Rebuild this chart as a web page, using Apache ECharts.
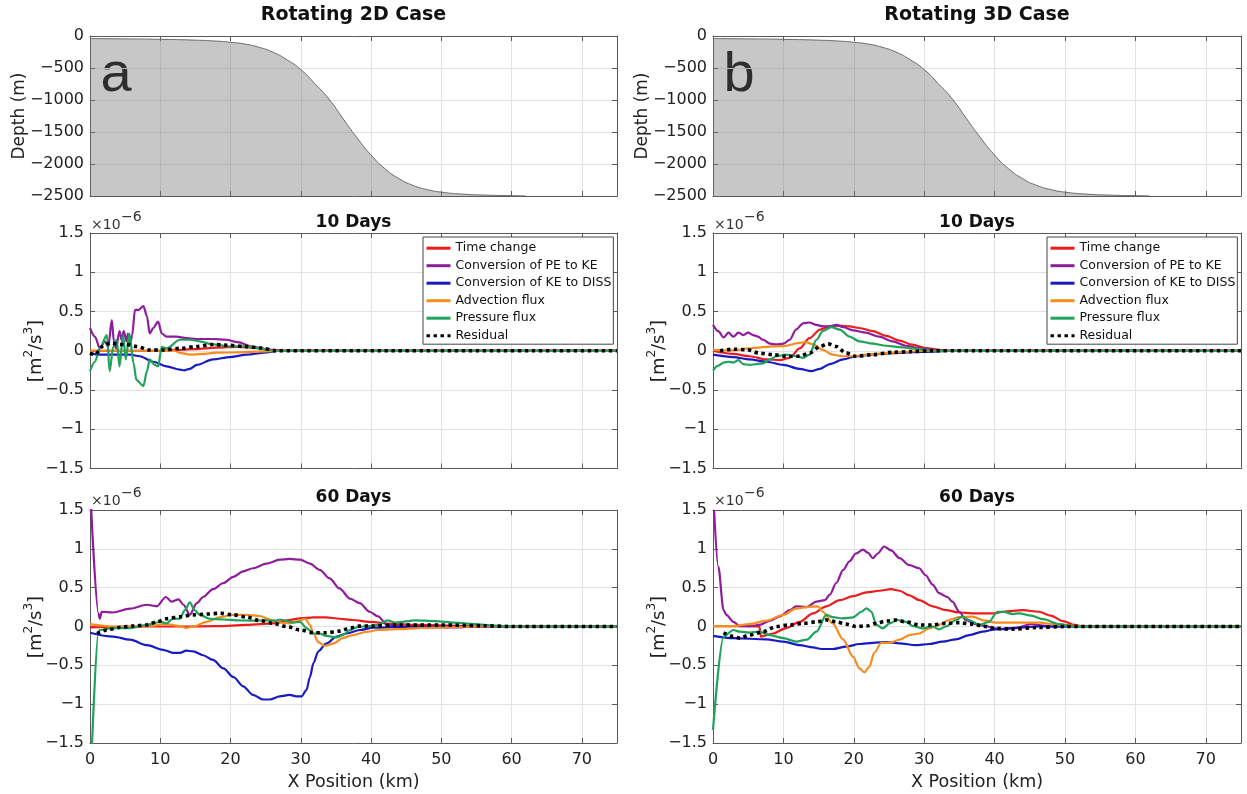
<!DOCTYPE html>
<html>
<head>
<meta charset="utf-8">
<script src="https://cdn.jsdelivr.net/npm/echarts@6/dist/echarts.min.js"></script>
<style>
html,body{margin:0;padding:0;background:#fff;}
#chart{width:1247px;height:794px;}
</style>
</head>
<body>
<div id="chart"></div>
<script>
// ---------------- DATA ----------------
const seriesNames = ['Time change','Conversion of PE to KE','Conversion of KE to DISS','Advection flux','Pressure flux','Residual'];
const panelTitles = ['Rotating 2D Case','Rotating 3D Case'];
const rowTitles = ['10 Days','60 Days'];
const panelLetters = ['a','b'];
const xTicks = [0,10,20,30,40,50,60,70];
const depthTicks = [0,-500,-1000,-1500,-2000,-2500];
const fluxTicks = [1.5,1,0.5,0,-0.5,-1,-1.5];

// bathymetry (same profile in both cases)
const depthX = [0,5,10,15,18,20,22,24,26,28,30,32,34,36,38,40,42,44,46,48,50,53,56,60,62];
const depthY = [-40,-45,-52,-65,-80,-98,-125,-175,-252,-370,-525,-745,-985,-1290,-1590,-1860,-2075,-2230,-2335,-2400,-2440,-2470,-2485,-2495,-2498];

// 2D, 10 days  ([x km, value x1e-6])
const l10_time = [[0,0],[10,0],[12,0.01],[15,0.02],[18,0.04],[21,0.05],[24,0.035],[26,0.01],[27.5,0],[75,0]];
const l10_pe = [[0,0.29],[0.7,0.18],[1.4,0.03],[2.1,0.12],[2.6,0.05],[3.1,0.39],[3.4,0.12],[3.7,0.03],[4.2,0.25],[4.5,0.14],[4.8,0.25],[5.2,0.12],[5.4,0.22],[5.7,0.08],[6.0,0.2],[6.4,0.52],[6.9,0.52],[7.6,0.57],[8.1,0.44],[8.5,0.22],[9.0,0.29],[9.7,0.37],[10.2,0.22],[10.9,0.18],[12.3,0.18],[13.7,0.16],[15.2,0.15],[17.5,0.15],[19.4,0.14],[21,0.11],[23.2,0.05],[25.6,0.01],[27,0],[75,0]];
const l10_diss = [[0,-0.03],[1.4,-0.05],[5.7,-0.05],[7.1,-0.07],[9,-0.14],[10.9,-0.2],[12.8,-0.24],[13.4,-0.25],[14.2,-0.23],[15.2,-0.18],[17.5,-0.11],[19.9,-0.08],[22.3,-0.05],[25.2,-0.02],[27,0],[75,0]];
const l10_adv = [[0,0],[12,0],[13,-0.03],[14.2,-0.05],[16,-0.04],[18,-0.025],[21,-0.02],[24,-0.01],[27,0],[75,0]];
const l10_pres = [[0,-0.26],[0.7,-0.14],[1.4,0.03],[2.4,0.2],[2.8,-0.26],[3.3,0.05],[3.8,0.14],[4.2,-0.2],[4.7,0.2],[5.1,-0.11],[5.6,0.22],[6.2,-0.16],[6.6,-0.37],[7.6,-0.45],[8.1,-0.26],[8.5,-0.11],[9.2,-0.18],[9.7,-0.2],[10.2,0.05],[10.9,0.03],[12.8,0.14],[14.2,0.14],[15.6,0.12],[17.5,0.08],[19.9,0.055],[22.3,0.055],[24.6,0.02],[26.5,0],[75,0]];
const l10_res = [[0,-0.03],[0.7,-0.05],[1.8,0.055],[2.9,0.1],[4.3,0.08],[5.2,0.08],[6.6,0.055],[8.5,0.01],[10.5,0.01],[12.8,0.03],[15.3,0.055],[17.5,0.08],[19.5,0.07],[22,0.055],[24.3,0.035],[26.5,0],[75,0]];

// 3D, 10 days
const r10_time = [[0,0],[2.9,-0.04],[5.2,-0.07],[7.6,-0.11],[9.5,-0.12],[10.9,-0.09],[12.3,0.03],[13.7,0.16],[15.2,0.27],[16.6,0.31],[18,0.32],[19.4,0.31],[20.8,0.29],[22.7,0.25],[24.6,0.19],[26.5,0.13],[28.3,0.077],[30.2,0.034],[32.1,0.013],[34,0],[75,0]];
const r10_pe = [[0,0.33],[0.75,0.25],[1.5,0.17],[2.2,0.23],[2.9,0.18],[3.6,0.23],[4.3,0.2],[5,0.23],[5.7,0.2],[6.4,0.18],[7.1,0.14],[8.1,0.09],[9,0.08],[10,0.09],[10.9,0.14],[11.8,0.27],[12.8,0.35],[13.7,0.36],[14.7,0.33],[15.6,0.31],[16.6,0.31],[17.5,0.33],[18.5,0.3],[19.9,0.26],[21.7,0.23],[23.6,0.18],[25.5,0.12],[27.4,0.064],[29.3,0.03],[31.2,0.01],[33,0],[75,0]];
const r10_diss = [[0,-0.05],[2.9,-0.08],[5.2,-0.11],[7.6,-0.14],[10,-0.18],[12.3,-0.23],[13.96,-0.26],[15.2,-0.23],[16.6,-0.17],[18.5,-0.11],[20.3,-0.07],[22.7,-0.047],[25.5,-0.03],[28.3,-0.017],[31.2,-0.01],[34,0],[75,0]];
const r10_adv = [[0,0.01],[2.9,0.004],[5.2,0.03],[7.6,0.05],[10,0.06],[12.3,0.1],[13.2,0.11],[14.2,0.08],[15.6,0.01],[17,-0.05],[18.4,-0.07],[19.9,-0.07],[21.7,-0.05],[24.6,-0.03],[27.4,-0.013],[30.2,0],[75,0]];
const r10_pres = [[0,-0.25],[0.75,-0.19],[1.5,-0.15],[2.2,-0.14],[2.9,-0.15],[3.6,-0.12],[4.3,-0.17],[5.2,-0.18],[6.2,-0.17],[7.1,-0.16],[8.1,-0.11],[9,-0.07],[10.4,-0.05],[11.8,-0.07],[12.8,-0.09],[13.7,-0.05],[14.7,0.14],[15.6,0.25],[16.8,0.3],[18,0.27],[19.4,0.18],[20.8,0.12],[22.7,0.09],[24.6,0.064],[26.5,0.047],[28.3,0.03],[30.2,0.013],[32.1,0],[75,0]];
const r10_res = [[1,0],[2.9,0.02],[4.8,0.013],[6.6,-0.03],[8.5,-0.05],[10.4,-0.07],[12.3,-0.07],[13.7,-0.03],[15.2,0.055],[16.3,0.09],[17.5,0.055],[18.9,-0.03],[20.3,-0.07],[22.7,-0.05],[25.5,-0.02],[28.3,-0.01],[31.2,0],[75,0]];

// 2D, 60 days
const l60_time = [[0,-0.01],[8,0],[12.8,0],[18,0.005],[22.3,0.02],[26,0.04],[28,0.08],[29.9,0.105],[31.8,0.118],[33.6,0.118],[35.5,0.1],[37.4,0.084],[39.8,0.06],[43.5,0.03],[46.8,0.02],[55,0],[75,0]];
const l60_pe = [[0.15,1.55],[1.2,0.17],[1.4,0.1],[1.66,0.19],[3.3,0.18],[5.7,0.23],[8.1,0.28],[9.5,0.26],[10.8,0.38],[11.6,0.32],[12.6,0.35],[13.3,0.28],[14.2,0.15],[15.2,0.3],[16.1,0.38],[17.5,0.48],[19,0.56],[20.4,0.64],[21.8,0.71],[23.2,0.75],[25.1,0.81],[27,0.86],[28.4,0.87],[29.9,0.86],[31.3,0.81],[32.7,0.73],[34.1,0.62],[35.5,0.49],[37,0.36],[38.4,0.3],[39.8,0.19],[41,0.13],[42.3,0.02],[46.3,-0.013],[52,-0.013],[55,0],[75,0]];
const l60_diss = [[0,-0.08],[3.3,-0.13],[5.7,-0.17],[8.1,-0.24],[10.4,-0.3],[11.8,-0.34],[12.8,-0.34],[13.7,-0.31],[14.7,-0.32],[16.1,-0.37],[17.5,-0.43],[19,-0.54],[20.4,-0.65],[21.8,-0.77],[23.2,-0.88],[24.6,-0.94],[25.6,-0.94],[27,-0.9],[28.4,-0.88],[29.4,-0.9],[30.1,-0.9],[30.8,-0.82],[31.3,-0.65],[31.8,-0.47],[32.5,-0.32],[33.6,-0.22],[35.1,-0.13],[36.5,-0.09],[38.4,-0.045],[40.3,-0.015],[44,-0.005],[48,0],[75,0]];
const l60_adv = [[0,0.03],[3.3,0],[8.1,0.006],[10.9,0.03],[12.8,0.006],[13.7,-0.02],[14.7,0],[16.6,0.06],[18.5,0.12],[20.4,0.15],[22.3,0.15],[24.2,0.135],[25.6,0.09],[27,0.05],[28.4,0.04],[29.9,0.08],[30.6,0.1],[31.3,0.02],[31.8,-0.09],[32.5,-0.2],[33.4,-0.25],[34.6,-0.22],[36,-0.15],[37.4,-0.11],[39.3,-0.07],[41,-0.045],[43.5,-0.035],[49,-0.013],[55,0],[75,0]];
const l60_pres = [[0.25,-1.6],[1.2,-0.07],[1.4,-0.045],[3.3,-0.02],[5.7,-0.02],[8.1,0.02],[10,0.06],[10.9,0.04],[11.8,0.1],[12.8,0.1],[13.5,0.21],[14.2,0.31],[14.9,0.21],[15.6,0.15],[17,0.1],[19,0.09],[20.9,0.08],[23.2,0.075],[25.1,0.08],[26.5,0.075],[27,0.09],[28.9,0.05],[29.9,0.06],[30.8,-0.02],[31.8,-0.09],[32.7,-0.09],[33.6,-0.12],[35.1,-0.14],[36,-0.11],[37,-0.045],[37.9,-0.01],[38.9,0],[39.8,0.006],[41,0.02],[42.3,0.08],[43.5,0.05],[46.3,0.08],[49.1,0.07],[51.9,0.05],[54.7,0.03],[57.5,0.01],[60,0],[75,0]];
const l60_res = [[1,-0.09],[2.4,-0.045],[4.3,-0.01],[6.2,0.006],[8.1,0.02],[9.5,0.06],[10.9,0.1],[12.8,0.125],[14.7,0.15],[16.6,0.16],[18.5,0.17],[20.4,0.15],[22.3,0.12],[24.2,0.075],[26.1,0.04],[28,0],[29.9,-0.045],[31.8,-0.08],[33.6,-0.08],[35.5,-0.06],[37,-0.02],[38.4,0.006],[39.8,0.006],[44,0.02],[50,0.02],[56,0.01],[60,0],[75,0]];

// 3D, 60 days
const r60_time = [[0,0.006],[2.9,0.006],[6.6,0],[6.8,-0.13],[8.5,-0.09],[10.4,-0.02],[12.3,0.06],[14.2,0.17],[16.1,0.26],[18,0.34],[19.9,0.39],[21.8,0.44],[23.6,0.46],[25.3,0.48],[26.5,0.46],[27.9,0.4],[29.3,0.34],[31.2,0.26],[33.1,0.21],[35,0.18],[36.8,0.17],[38.7,0.17],[40.1,0.17],[41.2,0.19],[44,0.21],[46.3,0.19],[48,0.14],[49.7,0.07],[51.4,0.02],[52.6,0],[75,0]];
const r60_pe = [[0.15,1.5],[0.75,0.77],[1.5,0.21],[1.9,0.15],[2.9,0.06],[3.8,0.006],[5.2,0.006],[6.6,0.02],[8.1,0.075],[9.5,0.13],[10.9,0.21],[11.8,0.26],[13.3,0.25],[14.7,0.32],[15.9,0.34],[16.6,0.41],[17.5,0.56],[18.5,0.73],[19.4,0.84],[20.3,0.94],[21.3,0.99],[22,0.95],[22.7,0.88],[23.4,0.94],[24.3,1.03],[25.3,0.98],[26.5,0.88],[27.9,0.79],[29.3,0.75],[30.2,0.66],[31.2,0.54],[32.1,0.43],[33.3,0.38],[34,0.32],[35,0.19],[35.9,0.084],[37.3,0.03],[38.7,0.006],[40.1,-0.024],[41.2,-0.035],[43,-0.02],[45.2,0.03],[46.9,0.01],[48,0],[75,0]];
const r60_diss = [[0,-0.12],[2.9,-0.15],[7.6,-0.165],[10,-0.195],[12.3,-0.24],[14.2,-0.27],[15.4,-0.29],[17,-0.29],[18.9,-0.26],[20.8,-0.225],[22.7,-0.21],[24.6,-0.2],[26.5,-0.217],[28.8,-0.24],[30.7,-0.225],[32.6,-0.195],[34.5,-0.165],[36.4,-0.11],[38.3,-0.067],[40.1,-0.036],[43.5,-0.013],[46.3,0],[75,0]];
const r60_adv = [[0,0.006],[2.9,0.006],[5.2,0.03],[7.6,0.075],[10,0.15],[11.8,0.23],[13.3,0.25],[14.9,0.26],[15.6,0.19],[17,0.04],[18.5,-0.17],[19.9,-0.39],[20.8,-0.54],[21.5,-0.59],[22.2,-0.52],[22.9,-0.34],[23.9,-0.21],[25.1,-0.21],[26.5,-0.17],[27.9,-0.11],[29.3,-0.09],[30.7,-0.024],[32.1,0.02],[33.5,0.084],[35,0.12],[36.8,0.127],[38.7,0.075],[40.1,0.05],[43.5,0.05],[46.3,0.05],[49.2,0.02],[53,0],[75,0]];
const r60_pres = [[0,-1.33],[1.5,-0.13],[2.9,-0.045],[3.8,-0.067],[5.2,-0.08],[6.6,-0.067],[8.1,-0.11],[10,-0.15],[11.8,-0.195],[13.3,-0.17],[14.7,-0.067],[16.1,0.15],[17,0.12],[18.4,0.105],[19.9,0.118],[21.1,0.19],[21.8,0.234],[22.5,0.19],[23.2,0.02],[24.1,-0.024],[25.1,0.04],[26.2,0.084],[27.4,0.06],[28.4,0.006],[29.8,-0.024],[31.2,0],[32.1,-0.036],[33.1,0],[34.5,0.084],[35.4,0.127],[36.4,0.084],[37.8,0.02],[39.2,0.06],[40.4,0.19],[41.2,0.19],[42.6,0.16],[43.5,0.17],[45.2,0.14],[46.9,0.094],[49.2,0.03],[51.4,0],[75,0]];
const r60_res = [[1.5,-0.08],[2.9,-0.13],[3.8,-0.15],[5.2,-0.11],[7.1,-0.067],[9,0],[10.9,0.02],[12.8,0.04],[14.7,0.06],[16.1,0.084],[17.5,0.06],[18.9,0.03],[20.3,0],[21.8,0.006],[23.2,0.04],[24.6,0.07],[26,0.084],[27.4,0.06],[29.3,0.02],[31.2,0.02],[33.1,0.04],[35,0.05],[36.8,0.03],[38.7,0],[40.1,-0.024],[42.4,-0.034],[46.3,-0.013],[50,0],[75,0]];

// ---------------- STYLE / LAYOUT ----------------
const FONT = 'DejaVu Sans';
const colors = ['#ec1c1c','#8e1c9c','#1a1ac4','#f78c1e','#1fa35c','#000000'];
const colLeft = [90, 713];
const colRight = [630, 6];
const rowTop = [36, 233, 510];
const rowH = [160, 235.5, 233];
const AX = '#5a5a5a';
const GRIDC = '#e2e2e2';

const grids = [], xAxes = [], yAxes = [], series = [], graphics = [];
const minusFmt = v => (v < 0 ? '\u2212' + Math.abs(v) : String(v));

for (let r = 0; r < 3; r++) {
  for (let c = 0; c < 2; c++) {
    grids.push({left: colLeft[c], right: colRight[c], top: rowTop[r], height: rowH[r], containLabel: false});
  }
}
const yRange = r => r === 0 ? {min: -2500, max: 0, interval: 500} : {min: -1.5, max: 1.5, interval: 0.5};

// primary axes
for (let gi = 0; gi < 6; gi++) {
  const r = Math.floor(gi / 2);
  xAxes.push({
    type: 'value', gridIndex: gi, min: 0, max: 75, interval: 10,
    axisLine: {show: true, onZero: false, lineStyle: {color: AX, width: 1}},
    axisTick: {show: true, inside: true, length: 5, lineStyle: {color: AX}},
    axisLabel: {show: r === 2, showMaxLabel: false, margin: 9, color: '#222', fontFamily: FONT, fontSize: 16,
      formatter: v => xTicks.indexOf(v) >= 0 ? String(v) : ''},
    splitLine: {show: true, lineStyle: {color: GRIDC, width: 1}}
  });
  const yr = yRange(r);
  yAxes.push({
    type: 'value', gridIndex: gi, min: yr.min, max: yr.max, interval: yr.interval,
    axisLine: {show: true, onZero: false, lineStyle: {color: AX, width: 1}},
    axisTick: {show: true, inside: true, length: 5, lineStyle: {color: AX}},
    axisLabel: {show: true, margin: 6, color: '#222', fontFamily: FONT, fontSize: 16,
      formatter: v => {
        const t = r === 0 ? depthTicks : fluxTicks;
        return t.indexOf(v) >= 0 ? minusFmt(v) : '';
      }},
    splitLine: {show: true, lineStyle: {color: GRIDC, width: 1}}
  });
}
// box axes (top / right)
for (let gi = 0; gi < 6; gi++) {
  const r = Math.floor(gi / 2);
  xAxes.push({
    type: 'value', gridIndex: gi, position: 'top', min: 0, max: 75, interval: 10,
    axisLine: {show: true, onZero: false, lineStyle: {color: AX, width: 1}},
    axisTick: {show: true, inside: true, length: 5, lineStyle: {color: AX}},
    axisLabel: {show: false}, splitLine: {show: false}
  });
  const yr = yRange(r);
  yAxes.push({
    type: 'value', gridIndex: gi, position: 'right', min: yr.min, max: yr.max, interval: yr.interval,
    axisLine: {show: true, onZero: false, lineStyle: {color: AX, width: 1}},
    axisTick: {show: true, inside: true, length: 5, lineStyle: {color: AX}},
    axisLabel: {show: false}, splitLine: {show: false}
  });
}

// bathymetry
const depthData = depthX.map((x, i) => [x, depthY[i]]);
for (let c = 0; c < 2; c++) {
  series.push({
    type: 'line', name: 'Depth' + c, xAxisIndex: c, yAxisIndex: c, data: depthData,
    symbol: 'none', smooth: 0.6,
    lineStyle: {color: '#6a6a6a', width: 1},
    areaStyle: {color: 'rgba(115,115,115,0.4)', opacity: 1, origin: 'start'},
    silent: true, z: 2
  });
}

const panelData = [
  [l10_time, l10_pe, l10_diss, l10_adv, l10_pres, l10_res],
  [r10_time, r10_pe, r10_diss, r10_adv, r10_pres, r10_res],
  [l60_time, l60_pe, l60_diss, l60_adv, l60_pres, l60_res],
  [r60_time, r60_pe, r60_diss, r60_adv, r60_pres, r60_res]
];
panelData.forEach((arr, p) => {
  const gi = p + 2;
  arr.forEach((d, k) => {
    const isRes = k === 5;
    series.push({
      type: 'line', name: seriesNames[k], xAxisIndex: gi, yAxisIndex: gi, data: d,
      symbol: 'none', smooth: 0.3, smoothMonotone: 'x', clip: true,
      lineStyle: isRes ? {color: colors[k], width: 3.6, type: [3.4, 3.6], cap: 'butt'} : {color: colors[k], width: 2.2},
      itemStyle: {color: colors[k]},
      silent: true, z: 3
    });
  });
});

// texts
for (let c = 0; c < 2; c++) {
  const cx = c === 0 ? 353.5 : 977;
  const dx = c * 623;
  graphics.push({type: 'text', x: cx, y: 15, style: {text: panelTitles[c], fontFamily: FONT, fontWeight: 'bold', fontSize: 19, fill: '#111', align: 'center', verticalAlign: 'middle'}});
  graphics.push({type: 'text', x: cx, y: 222.5, style: {text: rowTitles[0], fontFamily: FONT, fontWeight: 'bold', fontSize: 17, fill: '#111', align: 'center', verticalAlign: 'middle'}});
  graphics.push({type: 'text', x: cx, y: 498, style: {text: rowTitles[1], fontFamily: FONT, fontWeight: 'bold', fontSize: 17, fill: '#111', align: 'center', verticalAlign: 'middle'}});
  graphics.push({type: 'text', x: cx, y: 782, style: {text: 'X Position (km)', fontFamily: FONT, fontSize: 17.5, fill: '#222', align: 'center', verticalAlign: 'middle'}});
  graphics.push({type: 'text', x: 116 + dx, y: 76, style: {text: panelLetters[c], fontFamily: 'Liberation Sans', fontSize: 56, fill: '#000', align: 'center', verticalAlign: 'middle'}});
  graphics.push({type: 'text', x: 20 + dx, y: 116, rotation: Math.PI / 2, style: {text: 'Depth (m)', fontFamily: FONT, fontSize: 17, fill: '#222', align: 'center', verticalAlign: 'middle'}});
  [351, 627].forEach(yc => {
    graphics.push({type: 'text', x: 36 + dx, y: yc, rotation: Math.PI / 2, style: {
      text: '[m{s|2}/s{s|3}]', fontFamily: FONT, fontSize: 18, fill: '#222', align: 'center', verticalAlign: 'middle',
      rich: {s: {fontFamily: FONT, fontSize: 12, fill: '#222', verticalAlign: 'top', lineHeight: 26}}
    }});
  });
  [225, 501].forEach(yc => {
    graphics.push({type: 'text', x: 91 + dx, y: yc, style: {text: '\u00d710', fontFamily: FONT, fontSize: 14, fill: '#333', align: 'left', verticalAlign: 'middle'}});
    graphics.push({type: 'text', x: 121 + dx, y: yc - 8, style: {text: '\u22126', fontFamily: FONT, fontSize: 14, fill: '#333', align: 'left', verticalAlign: 'middle'}});
  });
}

const legendBase = {
  orient: 'vertical', top: 237, data: seriesNames, selectedMode: false,
  itemWidth: 24, itemHeight: 12, itemGap: 4.5, padding: [4.7, 2, 2, 2],
  backgroundColor: '#fff', borderColor: '#444', borderWidth: 1,
  textStyle: {fontFamily: FONT, fontSize: 12.5, color: '#111', lineHeight: 12.5},
  itemStyle: {color: 'rgba(0,0,0,0)', borderWidth: 0, opacity: 0},
  lineStyle: {width: 3}
};

const option = {
  animation: false,
  backgroundColor: '#fff',
  grid: grids,
  xAxis: xAxes,
  yAxis: yAxes,
  legend: [Object.assign({left: 423}, legendBase), Object.assign({left: 1047}, legendBase)],
  series: series,
  graphic: graphics
};

const chart = echarts.init(document.getElementById('chart'), null, {renderer: 'canvas'});
chart.setOption(option);
</script>
</body>
</html>
